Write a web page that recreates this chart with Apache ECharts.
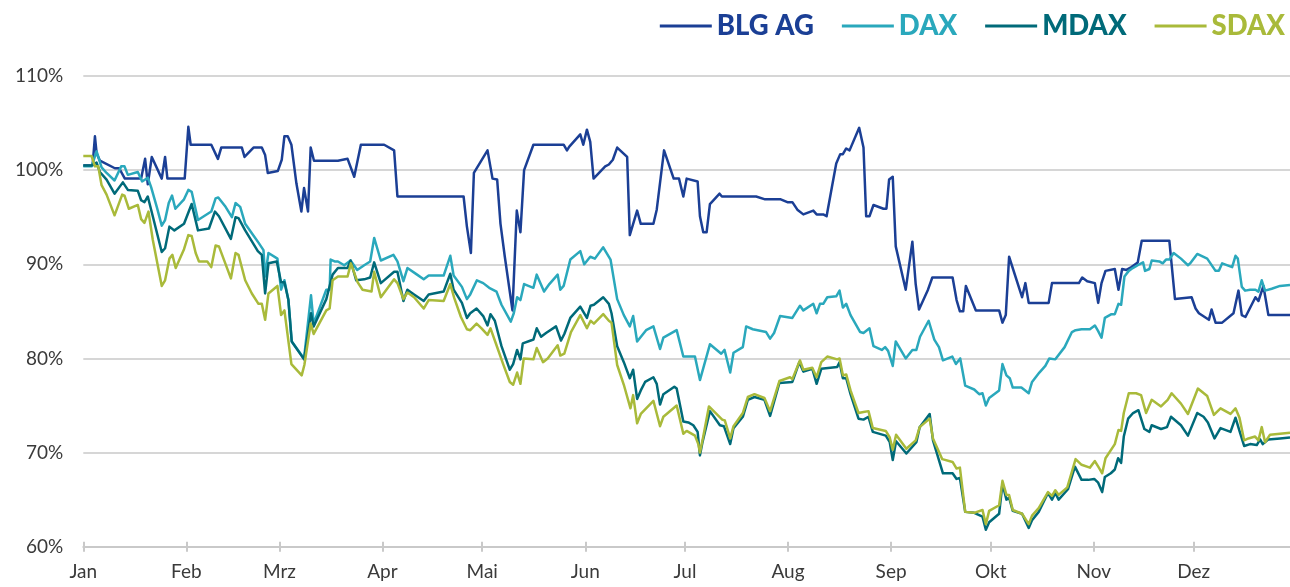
<!DOCTYPE html>
<html>
<head>
<meta charset="utf-8">
<script src="https://cdn.jsdelivr.net/npm/echarts@6/dist/echarts.min.js"></script>
<style>
  html, body { margin: 0; padding: 0; background: #fff; }
  #chart { width: 1290px; height: 587px; }
</style>
</head>
<body>
<div id="chart"></div>
<script>
const monthNames = ['Jan', 'Feb', 'Mrz', 'Apr', 'Mai', 'Jun', 'Jul', 'Aug', 'Sep', 'Okt', 'Nov', 'Dez']
const seriesNames = ['BLG AG', 'DAX', 'MDAX', 'SDAX']
const colorSet = ['#1b3f95', '#2aa8bc', '#006a79', '#a9ba3a']
const yTicks = [60, 70, 80, 90, 100, 110]

// [day of year 2022 (0 = 1 Jan), performance in %]
const blg = [[0,100.5],[2.8,100.5],[3.5,103.6],[4.0,101.8],[5.0,101.0],[9.5,100.2],[10.8,100.2],[12.5,99.1],[17.4,99.1],[18.6,101.2],[19.4,98.5],[20.6,101.4],[23.6,99.1],[24.6,101.4],[25.3,99.1],[30.5,99.1],[31.6,104.6],[32.3,102.7],[38.5,102.7],[40.5,101.2],[41.5,102.4],[47.7,102.4],[48.5,101.4],[51.2,102.4],[53.7,102.4],[54.7,101.6],[55.5,99.7],[58.5,99.9],[59.7,101.1],[60.5,103.6],[61.5,103.6],[62.6,102.7],[64.1,98.6],[65.6,95.6],[66.4,98.1],[67.6,95.6],[68.4,102.4],[69.4,101.0],[76.6,101.0],[79.5,101.2],[81.5,99.3],[83.5,102.7],[90.5,102.7],[93.5,102.1],[94.5,97.2],[114.4,97.2],[115.4,94.0],[116.6,91.2],[117.5,99.7],[121.6,102.1],[123.1,99.1],[124.5,99.0],[125.5,94.3],[126.8,90.8],[129.1,85.1],[130.4,95.7],[131.5,93.4],[132.6,100.0],[135.4,102.7],[144.5,102.7],[145.5,102.1],[146.2,102.5],[149.5,103.8],[150.4,102.7],[151.5,104.3],[152.5,103.0],[153.5,99.1],[157.0,100.4],[158.1,100.6],[159.3,101.1],[160.6,102.4],[163.6,101.4],[164.4,93.1],[166.6,95.7],[167.7,94.3],[171.5,94.3],[172.5,95.8],[174.7,102.1],[177.6,99.1],[179.2,99.1],[180.5,97.2],[181.5,99.1],[184.8,98.8],[185.5,95.1],[186.5,93.4],[187.5,93.4],[188.5,96.4],[191.4,97.5],[192.1,97.2],[202.4,97.2],[205.1,96.9],[209.8,96.9],[211.8,96.6],[213.3,96.6],[214.8,95.8],[216.6,95.3],[219.6,95.7],[220.6,95.3],[222.6,95.3],[223.6,95.1],[225.2,98.2],[226.5,100.7],[227.7,101.7],[228.5,101.7],[229.5,102.3],[230.5,102.1],[233.4,104.5],[234.7,102.4],[235.5,95.1],[236.5,95.1],[237.7,96.3],[240.7,95.9],[241.6,95.9],[242.4,99.0],[243.5,99.3],[244.4,91.9],[247.4,87.3],[249.4,92.4],[250.4,87.9],[251.4,85.2],[254.1,87.3],[255.4,88.6],[261.5,88.6],[262.7,86.2],[263.7,85.0],[264.7,85.0],[265.5,87.7],[268.5,85.1],[275.5,85.1],[276.5,83.8],[277.5,84.6],[278.5,90.8],[282.4,86.5],[283.4,88.0],[284.4,85.9],[290.4,85.9],[291.4,88.0],[299.5,88.0],[300.5,88.6],[302.0,88.2],[304.3,88.0],[305.3,85.9],[306.3,88.0],[307.5,89.3],[310.3,89.5],[311.4,87.3],[312.5,89.5],[313.8,89.4],[315.3,89.7],[317.2,90.2],[318.4,92.5],[326.7,92.5],[328.4,86.3],[333.4,86.5],[334.6,85.3],[335.6,84.8],[338.6,84.1],[339.4,85.2],[340.6,83.8],[342.6,83.8],[346.0,84.8],[347.5,87.2],[348.5,84.6],[349.6,84.4],[352.6,86.5],[353.5,86.1],[355.0,87.7],[356.5,84.6],[360.0,84.6],[363,84.6]]

const dax = [[0,100.4],[2.5,100.4],[4.0,102.0],[5.5,100.3],[7.0,99.7],[9.4,98.9],[11.4,100.4],[12.4,100.4],[13.4,99.5],[16.4,99.8],[17.7,98.8],[19.4,99.2],[20.4,98.2],[22.1,96.1],[23.6,94.1],[24.6,94.7],[25.7,96.5],[26.7,97.3],[27.7,95.9],[30.3,96.9],[31.6,97.9],[32.6,97.7],[34.5,94.7],[38.5,95.6],[39.8,97.0],[40.6,97.1],[42.8,96.1],[44.7,95.0],[45.8,96.5],[47.2,96.1],[48.7,94.3],[50.7,93.3],[52.7,92.3],[54.2,91.5],[54.7,88.7],[55.7,91.2],[58.4,90.6],[59.5,87.3],[60.5,88.3],[61.7,86.2],[62.7,81.8],[66.4,80.0],[68.5,86.7],[69.3,83.7],[73.1,87.3],[74.1,87.3],[74.4,90.5],[75.6,90.3],[76.6,90.3],[78.5,89.9],[80.4,90.4],[82.4,89.4],[84.5,89.9],[86.3,90.3],[87.5,92.8],[89.5,90.4],[93.3,91.0],[94.5,90.3],[96.3,88.2],[97.5,89.6],[100.4,88.9],[102.4,88.4],[103.9,88.8],[108.4,88.8],[110.4,90.9],[111.4,88.8],[113.9,87.6],[115.4,86.3],[116.4,86.8],[118.4,88.3],[120.3,88.0],[122.1,87.5],[124.3,87.1],[125.8,85.7],[128.6,83.9],[129.5,84.8],[130.5,86.5],[131.5,86.2],[132.6,87.9],[135.4,87.5],[136.4,88.9],[138.6,87.1],[140.2,87.9],[142.7,88.9],[143.5,87.3],[144.5,87.7],[146.5,90.5],[149.5,91.4],[150.7,90.0],[152.5,90.8],[153.9,90.6],[156.4,91.8],[158.6,90.5],[160.6,86.3],[162.6,84.6],[164.4,83.4],[165.4,84.5],[166.6,81.8],[169.3,83.0],[171.5,83.4],[173.5,81.0],[174.5,82.2],[178.5,83.0],[180.5,80.2],[184.0,80.2],[185.5,77.7],[188.5,81.5],[191.9,80.5],[192.9,80.9],[194.6,78.5],[195.6,80.6],[198.4,81.2],[199.4,83.4],[201.4,83.1],[205.4,82.8],[206.6,82.1],[207.8,82.7],[209.6,84.5],[213.3,84.3],[215.6,85.6],[216.6,85.1],[219.6,85.8],[220.6,84.8],[221.6,85.8],[222.6,85.8],[223.8,86.5],[226.5,86.6],[227.5,87.2],[228.5,85.4],[229.5,85.8],[230.8,84.6],[233.7,82.8],[234.7,82.7],[236.5,83.2],[237.7,81.3],[240.2,80.9],[241.2,81.2],[242.1,80.8],[243.5,79.2],[244.4,81.8],[247.4,80.0],[249.4,80.9],[250.6,80.9],[251.7,82.3],[254.3,84.0],[256.0,82.0],[257.4,81.2],[258.6,79.8],[261.4,80.2],[262.5,79.4],[263.8,80.0],[265.3,77.1],[268.0,76.7],[269.5,76.2],[270.5,76.3],[271.5,75.0],[272.5,75.8],[275.5,76.6],[276.5,79.4],[277.7,78.2],[278.7,77.9],[279.6,76.9],[282.2,76.9],[284.4,76.3],[285.4,77.5],[287.6,78.5],[289.4,79.2],[290.6,80.0],[292.4,79.9],[295.2,81.2],[297.4,82.8],[298.5,83.0],[300.3,83.1],[302.8,83.1],[304.3,83.5],[305.3,82.9],[306.3,82.2],[307.3,84.3],[309.3,84.7],[310.3,84.7],[311.4,85.8],[312.2,85.7],[313.2,88.7],[314.5,89.3],[315.7,89.6],[317.7,90.0],[318.8,90.2],[319.4,89.3],[320.7,89.5],[321.4,90.4],[323.7,90.3],[324.7,90.1],[325.7,90.5],[326.7,90.5],[328.0,91.2],[330.2,90.6],[332.3,89.9],[333.0,90.1],[335.1,91.1],[338.1,90.6],[340.6,89.3],[341.6,89.3],[342.6,90.1],[345.6,89.7],[346.6,90.9],[347.3,90.6],[348.5,87.6],[349.5,87.2],[351.0,87.3],[352.6,87.3],[353.5,87.1],[354.5,88.3],[355.5,87.2],[357.5,87.4],[360.0,87.7],[363,87.8]]

const mdax = [[0,100.5],[2.5,100.5],[4.0,100.8],[5.0,99.8],[7.0,99.0],[9.4,97.5],[11.9,98.7],[13.4,97.9],[16.4,97.8],[17.4,96.8],[18.4,96.6],[19.4,97.2],[20.9,95.1],[23.6,91.3],[24.6,91.7],[25.9,94.0],[27.4,93.6],[30.3,94.3],[32.6,96.4],[34.5,93.6],[37.8,93.8],[39.6,95.6],[40.8,95.1],[44.4,92.7],[45.8,95.0],[46.7,94.9],[48.7,93.6],[52.5,91.4],[53.7,91.0],[54.7,86.9],[55.7,90.1],[58.2,90.3],[59.5,88.1],[60.5,88.1],[61.7,86.2],[62.7,81.8],[66.4,79.9],[68.5,84.8],[69.3,83.4],[73.1,86.3],[75.0,88.9],[76.6,89.6],[79.5,89.6],[80.4,90.4],[82.1,88.3],[84.5,88.4],[86.3,88.6],[87.5,90.2],[89.5,88.0],[93.5,89.2],[94.5,89.2],[96.3,86.1],[97.5,87.3],[99.5,86.8],[102.4,86.1],[103.9,86.8],[108.4,87.1],[110.4,89.0],[111.4,87.3],[113.9,85.9],[115.4,84.3],[116.4,84.8],[118.3,85.3],[120.3,84.5],[121.6,83.5],[122.5,84.7],[123.8,84.0],[125.8,81.3],[128.3,78.8],[129.3,79.4],[130.5,80.9],[131.5,79.9],[132.2,81.6],[134.6,81.9],[135.4,82.0],[136.4,83.2],[137.7,82.3],[139.2,82.7],[142.2,83.4],[143.7,81.9],[144.7,82.6],[146.5,84.3],[149.5,85.5],[151.5,84.3],[152.6,85.6],[153.6,85.7],[156.4,86.5],[158.1,85.8],[158.9,84.8],[160.6,81.3],[162.6,79.6],[164.4,77.9],[165.4,78.8],[166.6,75.7],[167.7,76.6],[169.0,77.5],[171.5,78.0],[172.5,77.3],[173.5,75.1],[174.5,76.2],[177.8,77.0],[178.5,76.8],[180.5,73.3],[182.0,73.2],[183.5,72.9],[184.8,72.2],[185.5,69.7],[186.2,71.0],[188.5,74.4],[191.5,72.9],[192.7,72.8],[194.6,70.9],[195.6,72.6],[198.4,73.8],[199.9,75.6],[201.9,75.9],[204.9,75.6],[206.6,73.9],[209.4,77.4],[213.3,77.5],[215.4,79.6],[216.6,78.6],[219.3,78.9],[220.6,77.3],[222.0,78.9],[226.8,79.1],[227.5,79.6],[228.5,77.9],[229.5,77.9],[230.8,76.2],[233.2,73.6],[234.7,73.5],[236.2,73.8],[237.5,72.2],[241.4,71.8],[242.6,71.1],[243.5,69.2],[244.5,71.2],[247.6,69.9],[250.6,71.1],[251.6,72.7],[254.6,74.1],[255.6,71.3],[258.6,67.8],[261.5,67.8],[262.7,67.2],[263.7,67.3],[265.3,63.7],[268.0,63.6],[270.5,63.2],[271.5,61.8],[272.5,62.6],[275.5,63.5],[276.5,66.7],[277.7,65.0],[278.5,65.2],[279.6,63.8],[282.4,63.5],[284.4,62.0],[285.4,62.8],[287.4,63.7],[290.2,65.7],[291.4,65.0],[292.4,65.7],[293.4,65.0],[296.2,66.1],[298.3,68.5],[300.3,67.1],[302.3,67.1],[304.1,67.2],[305.3,66.8],[306.5,65.8],[307.3,67.4],[309.1,67.8],[310.3,68.2],[311.3,69.4],[312.2,68.9],[313.0,71.7],[314.3,73.6],[315.8,74.2],[317.4,74.5],[319.2,72.5],[320.7,72.2],[321.4,72.9],[324.2,72.5],[326.0,72.7],[327.2,73.8],[330.2,72.9],[332.3,71.8],[335.1,74.2],[337.0,73.8],[338.3,73.2],[340.3,71.5],[342.1,72.6],[345.1,72.2],[346.6,73.7],[347.8,72.3],[349.2,70.7],[351.0,70.9],[353.0,70.8],[354.0,71.4],[354.8,70.9],[356.5,71.4],[360.0,71.5],[363,71.6]]

const sdax = [[0,101.5],[2.5,101.5],[3.5,100.4],[4.5,100.4],[5.5,98.4],[7.0,97.4],[9.4,95.2],[11.7,97.4],[12.4,97.3],[13.7,95.9],[16.4,96.3],[17.4,94.8],[18.4,94.4],[19.6,95.6],[20.9,92.6],[23.6,87.7],[24.6,88.3],[25.9,90.6],[26.8,91.0],[27.8,89.6],[30.3,91.6],[31.6,93.1],[32.6,93.0],[33.8,91.2],[34.8,90.3],[37.3,90.3],[38.5,89.7],[39.8,92.0],[40.8,91.9],[44.4,88.5],[45.8,91.2],[46.7,91.0],[48.7,88.3],[50.7,86.9],[52.7,85.8],[53.7,85.8],[54.7,84.1],[55.7,86.9],[58.4,87.7],[59.5,84.6],[60.5,85.1],[62.6,79.4],[65.7,78.2],[66.5,79.3],[68.4,83.7],[69.3,82.6],[73.1,85.1],[74.1,85.3],[75.0,88.3],[76.6,88.7],[79.5,88.7],[80.5,90.1],[82.5,88.1],[84.0,87.3],[86.7,87.1],[87.5,89.2],[89.5,86.5],[93.5,88.4],[94.5,88.0],[96.3,86.3],[97.5,87.0],[99.5,86.5],[102.4,85.3],[103.9,86.2],[108.4,86.1],[110.4,87.9],[111.6,86.4],[113.6,84.4],[115.4,83.1],[116.4,83.0],[118.3,83.7],[119.8,83.2],[121.6,82.5],[122.5,83.2],[124.3,81.4],[126.3,79.4],[128.3,77.5],[129.3,77.2],[130.5,78.5],[131.5,77.3],[132.5,80.0],[135.4,79.9],[136.4,81.1],[138.3,79.6],[139.7,80.0],[142.7,81.4],[143.5,80.3],[144.7,80.5],[146.7,82.8],[149.5,84.6],[151.5,83.2],[152.6,84.0],[153.6,83.7],[156.4,84.7],[158.1,84.0],[158.9,83.8],[160.6,79.3],[162.6,77.2],[164.6,74.7],[165.4,76.1],[166.6,73.1],[167.7,74.1],[171.5,75.5],[173.5,72.8],[174.5,73.8],[178.5,75.0],[180.5,72.0],[181.5,72.3],[184.0,71.8],[185.0,70.9],[185.5,70.0],[186.5,71.7],[188.2,74.9],[192.2,73.5],[193.0,73.4],[194.6,71.5],[195.6,72.8],[198.4,74.2],[199.9,75.9],[201.9,76.2],[204.9,75.8],[206.6,74.4],[209.4,77.6],[212.6,78.0],[213.3,77.8],[215.6,79.8],[216.6,78.8],[219.3,79.0],[220.6,78.0],[222.0,79.6],[223.8,80.2],[226.8,79.9],[227.5,80.0],[228.5,78.2],[229.5,78.3],[230.8,76.6],[233.2,74.2],[234.7,74.3],[236.2,74.4],[237.5,72.6],[241.4,72.3],[242.6,71.6],[243.5,70.3],[244.5,71.9],[247.6,70.4],[250.4,71.3],[251.6,72.7],[254.6,73.6],[255.6,71.5],[258.4,69.3],[261.5,69.0],[262.7,68.3],[263.7,68.4],[265.3,63.7],[268.0,63.6],[270.5,63.9],[271.5,62.4],[272.5,63.8],[275.5,64.4],[276.5,67.0],[277.7,65.5],[278.5,65.5],[279.6,63.9],[282.4,63.5],[284.4,62.4],[285.4,63.3],[287.4,64.1],[290.2,65.8],[291.4,65.4],[292.4,66.0],[293.4,65.5],[296.0,66.3],[298.5,69.3],[300.3,68.7],[302.8,68.4],[304.3,69.1],[305.5,68.4],[306.5,67.8],[307.5,69.4],[310.3,70.9],[311.4,72.4],[312.2,72.3],[313.0,74.2],[314.5,76.3],[316.7,76.3],[318.2,76.1],[319.7,74.2],[321.4,75.6],[324.2,74.9],[326.2,75.6],[327.4,76.3],[330.2,75.2],[332.3,74.1],[335.3,76.8],[338.1,76.0],[340.1,74.0],[342.1,74.7],[345.1,74.1],[346.6,74.7],[347.8,73.7],[349.2,71.3],[350.5,71.5],[352.5,71.7],[353.5,71.3],[354.5,72.7],[355.5,71.1],[357.0,71.9],[360.0,72.0],[363,72.1]]

const seriesData = [blg, dax, mdax, sdax]

// one category per calendar day, 1 Jan .. 30 Dec 2022
const days = []
for (let i = 0; i < 364; i++) {
  const d = new Date(Date.UTC(2022, 0, 1 + i))
  days.push(d.toISOString().slice(0, 10))
}
const isMonthStart = (idx, val) => val.slice(8) === '01'
const monthLabel = (val) => monthNames[parseInt(val.slice(5, 7), 10) - 1]

const labelFont = { fontFamily: 'Lato', fontSize: 19, color: '#3a3a3a' }
const gridColor = '#c9c9c9'

const option = {
  animation: false,
  grid: { left: 83.3, right: -10, top: 76, bottom: 40.3 },
  legend: {
    right: 0,
    top: 7,
    icon: 'rect',
    itemWidth: 52,
    itemHeight: 3,
    itemGap: 28,
    selectedMode: false,
    data: seriesNames.map((name, i) => ({
      name: name,
      textStyle: { color: colorSet[i] }
    })),
    textStyle: { fontFamily: 'Lato', fontWeight: 900, fontSize: 27.5 }
  },
  xAxis: [
    { type: 'value', min: 0, max: 363, show: false },
    {
      type: 'category', position: 'bottom', data: days, boundaryGap: false,
      axisLine: { lineStyle: { color: gridColor, width: 2 } },
      axisTick: { interval: isMonthStart, length: 5, lineStyle: { color: gridColor, width: 2 } },
      axisLabel: Object.assign({ interval: isMonthStart, formatter: monthLabel, margin: 16 }, labelFont),
      splitLine: { show: false }
    },
    {
      type: 'category', position: 'bottom', data: days, boundaryGap: false,
      axisLine: { show: false },
      axisTick: { interval: isMonthStart, inside: true, length: 5, lineStyle: { color: gridColor, width: 2 } },
      axisLabel: { show: false },
      splitLine: { show: false }
    }
  ],
  yAxis: {
    type: 'value', min: yTicks[0], max: yTicks[yTicks.length - 1], interval: 10,
    axisLine: { show: false },
    axisTick: { show: false },
    axisLabel: Object.assign({ formatter: '{value}%', margin: 20 }, labelFont),
    splitLine: { lineStyle: { color: gridColor, width: 1.5 } }
  },
  series: seriesNames.map((name, i) => ({
    name: name,
    type: 'line',
    xAxisIndex: 0,
    data: seriesData[i],
    symbol: 'none',
    color: colorSet[i],
    lineStyle: { width: 2.5, color: colorSet[i], join: 'round' },
    emphasis: { disabled: true }
  }))
}

const chart = echarts.init(document.getElementById('chart'))
chart.setOption(option)
</script>
</body>
</html>
